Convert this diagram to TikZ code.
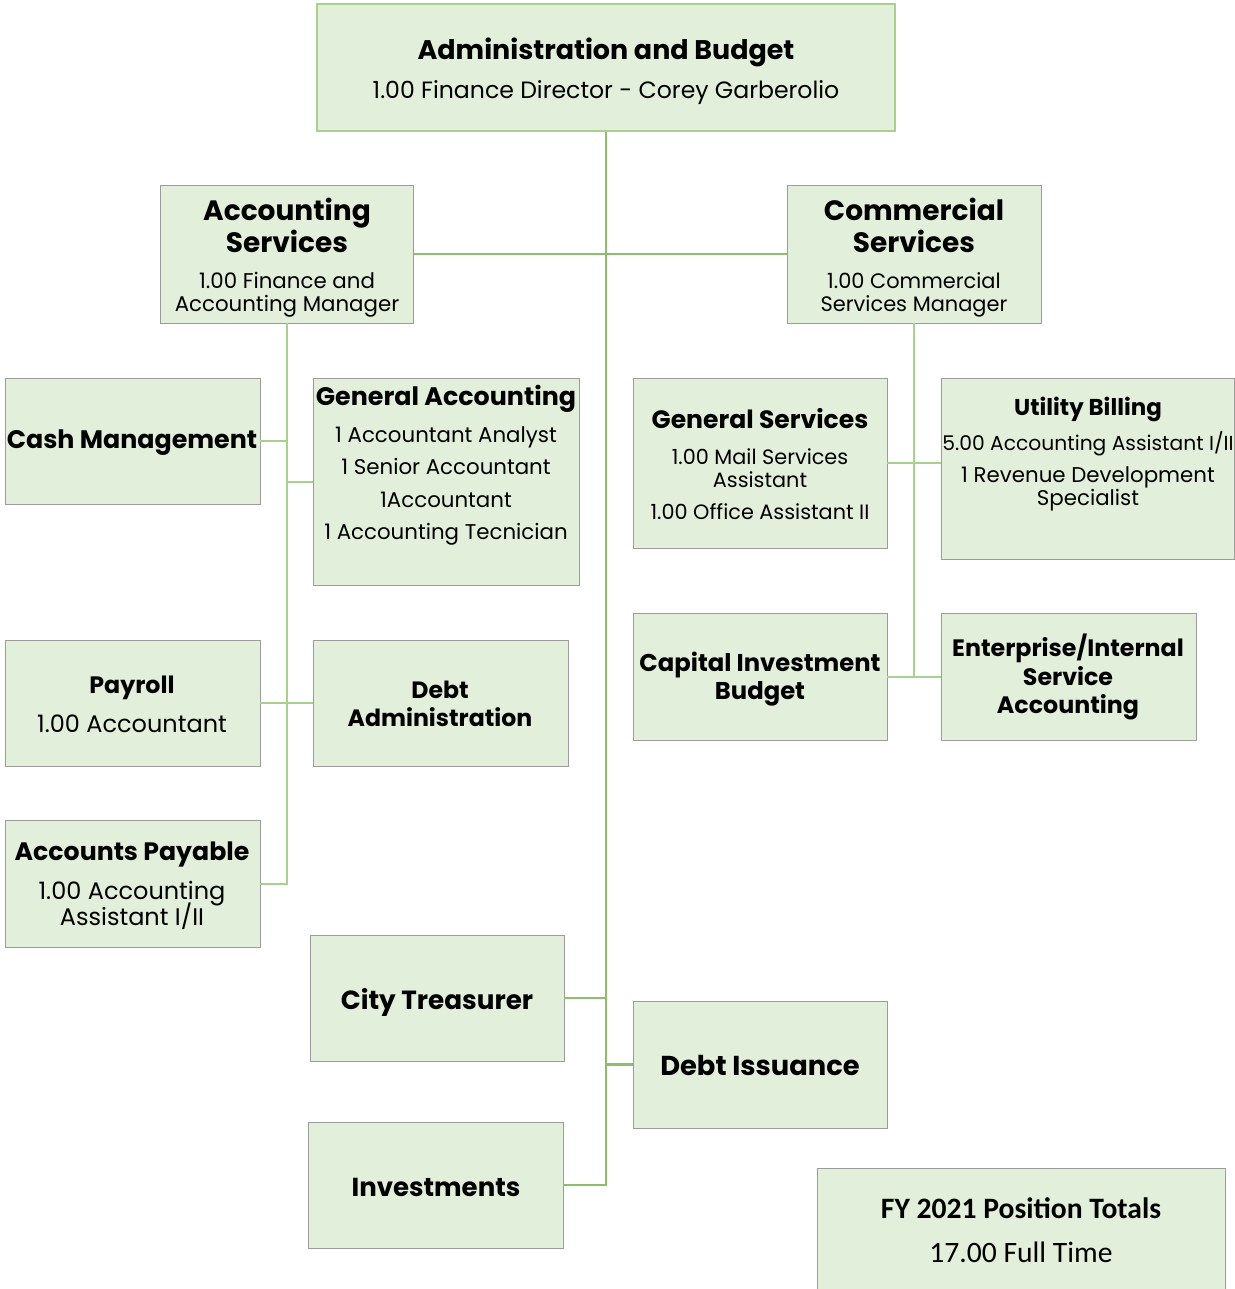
\documentclass[tikz,border=0pt]{standalone}
\usepackage{fontspec}
\setmainfont{Poppins}
\newfontfamily\calfont{Carlito}
\definecolor{boxfill}{HTML}{E2EFDA}
\definecolor{boxline}{HTML}{9C9C9C}
\definecolor{topline}{HTML}{A9D08E}
\definecolor{trunkc}{HTML}{8CBE6E}
\definecolor{branchc}{HTML}{A9D18E}
\newcommand\obox[6][box]{\node[#1,minimum width={(#4-#2)*0.75pt},minimum height={(#5-#3)*0.75pt}] (#6) at ({(#2+#4)/2},{(#3+#5)/2}) {};}
\newcommand\fs[2]{\fontsize{#1}{#2}\selectfont\lineskiplimit=-100pt\relax}
\tikzset{
  box/.style={draw=boxline, fill=boxfill, line width=0.7pt, inner sep=0pt, rectangle},
  topbox/.style={box, draw=topline, line width=1pt},
  ttl/.style={inner sep=0pt, align=center, font=\bfseries\fs{18.5}{22}},
  sub/.style={inner sep=0pt, align=center, font=\fs{16}{17.5}},
  trunkline/.style={draw=trunkc, line width=2.1pt},
  hline/.style={draw=trunkc, line width=1.7pt},
  branch/.style={draw=branchc, line width=1.5pt},
}
\begin{document}
\begin{tikzpicture}[x=0.75pt,y=-0.75pt]
\useasboundingbox (0,0) rectangle (1235,1289);
% boxes
\obox[topbox]{317}{4}{895}{131}{adm}
\obox{160}{185}{413}{323}{as}
\obox{787}{185}{1041}{323}{cs}
\obox{5}{378}{260}{504}{cash}
\obox{313}{378}{579}{585}{ga}
\obox{633}{378}{887}{548}{gs}
\obox{941}{378}{1234}{559}{ub}
\obox{5}{640}{260}{766}{pay}
\obox{313}{640}{568}{766}{da}
\obox{5}{820}{260}{947}{ap}
\obox{633}{613}{887}{740}{cib}
\obox{941}{613}{1196}{740}{ent}
\obox{310}{935}{564}{1061}{ct}
\obox{633}{1001}{887}{1128}{di}
\obox{308}{1122}{563}{1248}{inv}
\obox{817}{1168}{1225}{1300}{fy}
% connectors
\draw[trunkline] (adm.south) |- (inv.east);
\draw[hline] (as.east) -- (cs.west);
\draw[hline] (ct.east) -- (ct.east -| adm.south);
\draw[hline] (di.west) -- (di.west -| adm.south);
\draw[branch] (as.south) |- (ap.east);
\draw[branch] (cash.east) -- (cash.east -| as.south);
\draw[branch] (ga.west) -- (ga.west -| as.south);
\draw[branch] (pay.east) -- (da.west);
\draw[branch] (cs.south) -- (cs.south |- cib.east);
\draw[branch] (cib.east) -- (ent.west);
\draw[branch] (gs.east) -- (gs.east -| ub.west);
% texts
\node[ttl, font=\bfseries\fs{20.2}{24}] (admT) at (606,52) {Administration and Budget};
\node[sub, font=\fs{17.7}{20}] (admS) at (606,93) {1.00 Finance Director - Corey Garberolio};
\node[ttl, font=\bfseries\fs{21}{24}] (asT) at (287,225) {Accounting\\Services};
\node[sub] (asS) at (287,295) {1.00 Finance and\\Accounting Manager};
\node[ttl, font=\bfseries\fs{21}{24}] (csT) at (914,225) {Commercial\\Services};
\node[sub, font=\fs{15.7}{17.5}] (csS) at (914,295) {1.00 Commercial\\Services Manager};
\node[ttl, font=\bfseries\fs{19}{22}] (cashT) at (132,443) {Cash Management};
\node[ttl, font=\bfseries\fs{19}{22}] (gaT) at (446,399) {General Accounting};
\node[sub, font=\fs{16}{24.4}] (gaS) at (446,486) {1 Accountant Analyst\\1 Senior Accountant\\1Accountant\\1 Accounting Tecnician};
\node[ttl, font=\bfseries\fs{18.8}{22}] (gsT) at (760,419) {General Services};
\node[sub, font=\fs{15.6}{17.5}] (gsS) at (760,468) {1.00 Mail Services\\Assistant};
\node[sub, font=\fs{15.6}{17.5}] (gsS2) at (760,512) {1.00 Office Assistant II};
\node[ttl, font=\bfseries\fs{17.2}{22}] (ubT) at (1088,409) {Utility Billing};
\node[sub, font=\fs{15.2}{17.5}] (ubS) at (1088,444) {5.00 Accounting Assistant I/II};
\node[sub] (ubS2) at (1088,489) {1 Revenue Development\\Specialist};
\node[ttl, font=\bfseries\fs{17.8}{22}] (payT) at (132,688) {Payroll};
\node[sub, font=\fs{18}{20}] (payS) at (132,724) {1.00 Accountant};
\node[ttl, font=\bfseries\fs{17.7}{21.5}] (daT) at (440,704) {Debt\\Administration};
\node[ttl, font=\bfseries\fs{18.9}{22}] (apT) at (132,855) {Accounts Payable};
\node[sub, font=\fs{18}{19.5}] (apS) at (132,905) {1.00 Accounting\\Assistant I/II};
\node[ttl, font=\bfseries\fs{18.2}{21}] (cibT) at (760,679) {Capital Investment\\Budget};
\node[ttl, font=\bfseries\fs{17.8}{21.7}] (entT) at (1068,677) {Enterprise/Internal\\Service\\Accounting};
\node[ttl, font=\bfseries\fs{19.7}{24}] (ctT) at (437,1002) {City Treasurer};
\node[ttl, font=\bfseries\fs{20.5}{24}] (diT) at (760,1065) {Debt Issuance};
\node[ttl, font=\bfseries\fs{19.5}{24}] (invT) at (436,1187) {Investments};
\node[inner sep=0pt, font=\calfont\bfseries\fs{22.2}{26}] (fyT) at (1021,1208) {FY 2021 Position Totals};
\node[inner sep=0pt, font=\calfont\fs{22.2}{26}] (fyS) at (1021,1252) {17.00 Full Time};
\end{tikzpicture}
\end{document}
